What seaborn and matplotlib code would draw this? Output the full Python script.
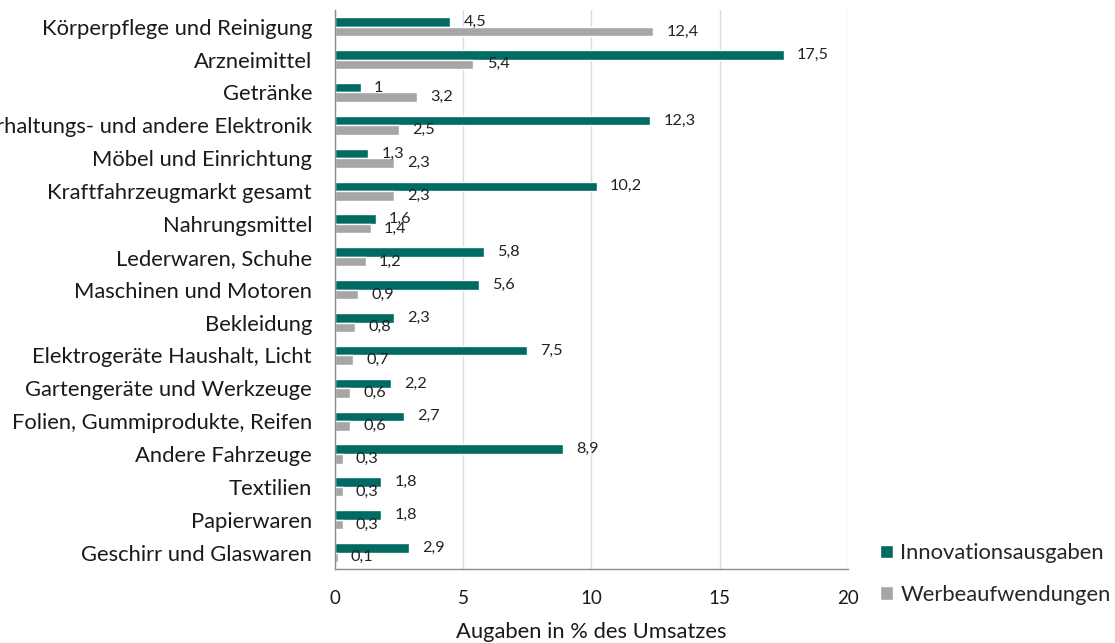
import pandas as pd
import numpy as np
import seaborn as sns
import matplotlib.pyplot as plt
from matplotlib.ticker import FixedLocator

kategorien = ["Körperpflege und Reinigung", "Arzneimittel", "Getränke",
              "Unterhaltungs- und andere Elektronik", "Möbel und Einrichtung",
              "Kraftfahrzeugmarkt gesamt", "Nahrungsmittel", "Lederwaren, Schuhe",
              "Maschinen und Motoren", "Bekleidung", "Elektrogeräte Haushalt, Licht",
              "Gartengeräte und Werkzeuge", "Folien, Gummiprodukte, Reifen",
              "Andere Fahrzeuge", "Textilien", "Papierwaren", "Geschirr und Glaswaren"]
innovation = [4.5, 17.5, 1, 12.3, 1.3, 10.2, 1.6, 5.8, 5.6, 2.3, 7.5, 2.2, 2.7, 8.9, 1.8, 1.8, 2.9]
werbung = [12.4, 5.4, 3.2, 2.5, 2.3, 2.3, 1.4, 1.2, 0.9, 0.8, 0.7, 0.6, 0.6, 0.3, 0.3, 0.3, 0.1]
serien = ["Innovationsausgaben", "Werbeaufwendungen"]
farben = ["#006b63", "#a6a6a6"]

df = pd.DataFrame({
    "kategorie": kategorien * 2,
    "wert": innovation + werbung,
    "serie": [serien[0]] * len(kategorien) + [serien[1]] * len(kategorien),
})

sns.set_style("white")
plt.rcParams['font.family'] = ['Lato', 'DejaVu Sans']

fig = plt.figure(figsize=(11.15, 6.43), dpi=100)
ax = fig.add_axes([0.3004, 0.115, 0.4601, 0.869])

sns.barplot(data=df, y="kategorie", x="wert", hue="serie", orient="h",
            palette=farben, width=0.58, ax=ax, saturation=1)

for cont in ax.containers:
    labels = [f"{v:g}".replace(".", ",") for v in cont.datavalues]
    ax.bar_label(cont, labels=labels, padding=9.5, fontsize=11.7, color="#222222")

ax.set_xlim(0, 20)
ax.set_xticks([0, 5, 10, 15, 20])
ax.xaxis.grid(True, color="#d5dceb", lw=1)
ax.set_axisbelow(True)
for s in ["top", "right"]:
    ax.spines[s].set_visible(False)
for s in ["left", "bottom"]:
    ax.spines[s].set_color("#8c8c8c")
    ax.spines[s].set_linewidth(1)

ax.yaxis.set_minor_locator(FixedLocator(np.arange(-0.5, len(kategorien), 1)))
ax.tick_params(axis="y", which="major", length=0, labelsize=15.8, pad=16.5, colors="#1a1a1a")
ax.tick_params(axis="y", which="minor", length=6, color="#8c8c8c", direction="out")
ax.tick_params(axis="x", length=6, color="#8c8c8c", labelsize=13.5, pad=9, labelcolor="#1a1a1a")

ax.set_ylabel("")
ax.set_xlabel("Augaben in % des Umsatzes", fontsize=15.8, labelpad=11, color="#1a1a1a")

ax.legend(loc="lower left", bbox_to_anchor=(1.023, -0.1), frameon=False, fontsize=15.8,
          handlelength=0.6, handleheight=0.6, handletextpad=0.35, labelspacing=1.0)

plt.savefig("out.png", dpi=100)
